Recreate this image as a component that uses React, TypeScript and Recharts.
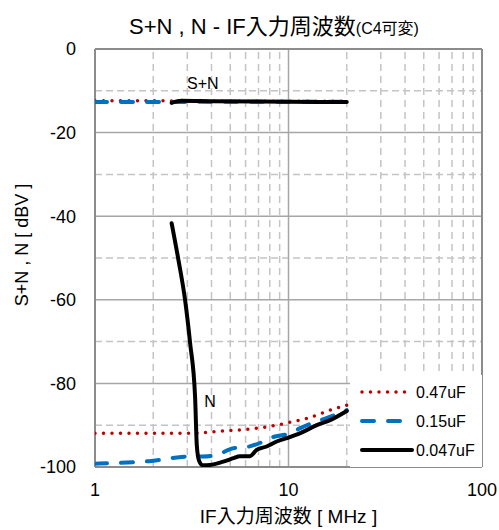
import {
  LineChart,
  Line,
  XAxis,
  YAxis,
  ReferenceLine,
  ReferenceDot,
  Legend,
} from 'recharts';

// axis ticks and grid positions
const FREQ_TICKS = [1, 10, 100];
const LEVEL_TICKS = [-100, -80, -60, -40, -20, 0];
const MINOR_FREQS = [2, 3, 4, 5, 6, 7, 8, 9, 20, 30, 40, 50, 60, 70, 80, 90];
const MAJOR_FREQS = [10];
const MINOR_LEVELS = [-90, -70, -50, -30, -10];
const MAJOR_LEVELS = [-80, -60, -40, -20];

// S+N (signal + noise) per C4 value
const SN_047_FREQ = [1, 2, 5, 10, 20];
const SN_047_DBV = [-12.4, -12.4, -12.5, -12.5, -12.5];
const SN_015_FREQ = [1, 2, 5, 10, 20];
const SN_015_DBV = [-12.7, -12.7, -12.6, -12.6, -12.6];
const SN_0047_FREQ = [2.49, 2.8, 4, 10, 20];
const SN_0047_DBV = [-12.9, -12.4, -12.5, -12.6, -12.7];

// N (noise only) per C4 value
const N_047_FREQ = [1, 1.5, 2, 3.1, 4.6, 6.3, 7.7, 10.2, 12.4, 16.4, 20];
const N_047_DBV = [-91.9, -91.9, -91.9, -91.9, -91.4, -90.9, -90.4, -89.3, -88.4, -86.4, -85.2];
const N_015_FREQ = [1, 1.35, 1.9, 3.1, 3.63, 4.26, 5.19, 5.96, 7.41, 8.02, 10.2, 11.5, 14, 15.7, 20];
const N_015_DBV = [-99.2, -99.0, -98.6, -97.5, -97.5, -97.1, -95.5, -95.3, -93.9, -93.1, -91.9, -90.7, -89.1, -88.3, -86.4];
const N_0047_FREQ = [2.49, 2.7, 2.92, 3.1, 3.29, 3.36, 3.45, 3.6, 3.93, 4.6, 5.19, 5.61, 6.32, 6.85, 7.71, 8.69, 9.79, 11.5, 14, 16.4, 20];
const N_0047_DBV = [-41.7, -50.5, -60, -70.3, -83.2, -95, -98.5, -99.6, -99.5, -98.7, -97.9, -97.4, -97.4, -95.9, -95.1, -93.9, -93.1, -91.9, -90, -88.8, -86.6];

const zip = (f: number[], v: number[]) => f.map((x, i) => ({ f: x, v: v[i] }));

const FONT = "'Liberation Sans', Arial, 'Noto Sans CJK JP', sans-serif";
const RED = '#C00000';
const BLUE = '#0070C0';
const BLACK = '#000000';

const STYLES = {
  '0.47uF': { stroke: RED, strokeWidth: 3.5, strokeDasharray: '0 8.5' },
  '0.15uF': { stroke: BLUE, strokeWidth: 4, strokeDasharray: '12 14' },
  '0.047uF': { stroke: BLACK, strokeWidth: 4, strokeDasharray: undefined },
} as const;

const LEGEND_NAMES = ['0.47uF', '0.15uF', '0.047uF'] as const;

function LegendBox() {
  return (
    <svg width={132} height={92} style={{ background: '#fff', display: 'block' }}>
      {LEGEND_NAMES.map((name, i) => {
        const s = STYLES[name];
        const y = 17 + i * 29;
        return (
          <g key={name}>
            <line
              x1={12}
              x2={name === '0.047uF' ? 62 : 57}
              y1={y}
              y2={y}
              stroke={s.stroke}
              strokeWidth={s.strokeWidth}
              strokeDasharray={s.strokeDasharray}
              strokeLinecap="round"
            />
            <text x={66} y={y} dy="0.35em" fontSize={16} fontFamily={FONT} fill="#000">
              {name}
            </text>
          </g>
        );
      })}
    </svg>
  );
}

export default function App() {
  const series = [
    { key: 'sn047', data: zip(SN_047_FREQ, SN_047_DBV), style: STYLES['0.47uF'] },
    { key: 'sn015', data: zip(SN_015_FREQ, SN_015_DBV), style: STYLES['0.15uF'] },
    { key: 'n047', data: zip(N_047_FREQ, N_047_DBV), style: STYLES['0.47uF'] },
    { key: 'n015', data: zip(N_015_FREQ, N_015_DBV), style: STYLES['0.15uF'] },
    { key: 'sn0047', data: zip(SN_0047_FREQ, SN_0047_DBV), style: STYLES['0.047uF'] },
    { key: 'n0047', data: zip(N_0047_FREQ, N_0047_DBV), style: STYLES['0.047uF'] },
  ];

  return (
    <div style={{ position: 'absolute', left: 0, top: 0, width: 499, height: 530, background: '#fff', fontFamily: FONT }}>
      <div
        style={{
          position: 'absolute',
          top: 8,
          left: 0,
          width: 548,
          textAlign: 'center',
          fontSize: 22,
          color: '#000',
          whiteSpace: 'nowrap',
        }}
      >
        S+N , N - IF入力周波数<span style={{ fontSize: 16 }}>(C4可変)</span>
      </div>
      <div
        style={{
          position: 'absolute',
          left: 22,
          top: 245,
          transform: 'translate(-50%, -50%) rotate(-90deg)',
          fontSize: 18,
          color: '#000',
          whiteSpace: 'nowrap',
        }}
      >
        S+N , N [ dBV ]
      </div>
      <LineChart width={499} height={530} margin={{ top: 49, right: 17, left: 0, bottom: 0 }}>
        <XAxis
          type="number"
          dataKey="f"
          scale="log"
          domain={[1, 100]}
          ticks={FREQ_TICKS}
          interval={0}
          allowDataOverflow
          height={63}
          axisLine={false}
          tickLine={false}
          tickMargin={10}
          tick={{ fill: '#000', fontSize: 18, fontFamily: FONT }}
          label={{
            value: 'IF入力周波数 [ MHz ]',
            position: 'insideBottom',
            offset: 7,
            fill: '#000',
            fontSize: 19,
            fontFamily: FONT,
          }}
        />
        <YAxis
          type="number"
          dataKey="v"
          domain={[-100, 0]}
          ticks={LEVEL_TICKS}
          interval={0}
          allowDataOverflow
          width={95}
          axisLine={false}
          tickLine={false}
          tickMargin={13}
          tick={{ fill: '#000', fontSize: 18, fontFamily: FONT }}
        />
        {MINOR_FREQS.map((f) => (
          <ReferenceLine key={'mf' + f} x={f} stroke="#C4C4C4" strokeWidth={1.5} strokeDasharray="7 5" />
        ))}
        {MINOR_LEVELS.map((v) => (
          <ReferenceLine key={'ml' + v} y={v} stroke="#C4C4C4" strokeWidth={1.5} strokeDasharray="7 4" />
        ))}
        {MAJOR_FREQS.map((f) => (
          <ReferenceLine key={'Mf' + f} x={f} stroke="#A6A6A6" strokeWidth={1.5} />
        ))}
        {MAJOR_LEVELS.map((v) => (
          <ReferenceLine key={'Ml' + v} y={v} stroke="#A6A6A6" strokeWidth={1.5} />
        ))}
        <ReferenceLine x={1} stroke="#8C8C8C" strokeWidth={2} />
        <ReferenceLine x={100} stroke="#8C8C8C" strokeWidth={2} />
        <ReferenceLine y={0} stroke="#8C8C8C" strokeWidth={2} />
        <ReferenceLine y={-100} stroke="#8C8C8C" strokeWidth={2} />
        {series.map((s) => (
          <Line
            key={s.key}
            data={s.data}
            dataKey="v"
            type="monotone"
            dot={false}
            activeDot={false}
            isAnimationActive={false}
            stroke={s.style.stroke}
            strokeWidth={s.style.strokeWidth}
            strokeDasharray={s.style.strokeDasharray}
            strokeLinecap="round"
            strokeLinejoin="round"
            legendType="none"
          />
        ))}
        <ReferenceDot
          x={3.61}
          y={-8.1}
          r={0}
          stroke="none"
          label={{ value: 'S+N', position: 'center', fill: '#000', fontSize: 16, fontFamily: FONT }}
        />
        <ReferenceDot
          x={3.93}
          y={-84.4}
          r={0}
          stroke="none"
          label={{ value: 'N', position: 'center', fill: '#000', fontSize: 16, fontFamily: FONT }}
        />
        <Legend
          layout="vertical"
          align="center"
          verticalAlign="middle"
          content={() => <LegendBox />}
          wrapperStyle={{ left: 350, top: 375, width: 132, height: 92 }}
        />
      </LineChart>
    </div>
  );
}
